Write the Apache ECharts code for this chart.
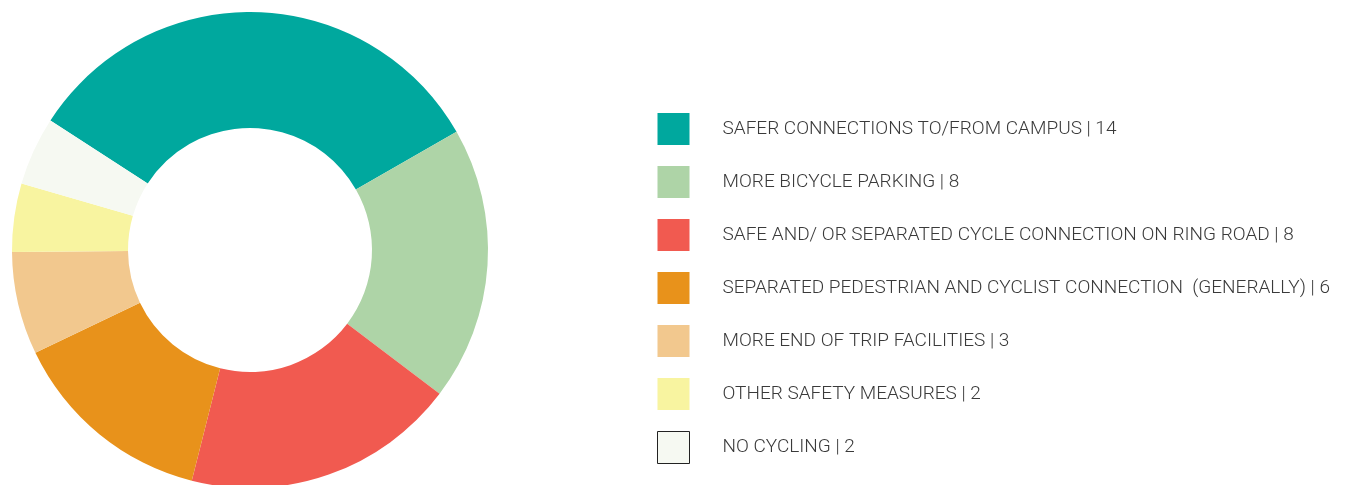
<!DOCTYPE html>
<html>
<head>
<meta charset="utf-8">
<script src="https://cdn.jsdelivr.net/npm/echarts@6/dist/echarts.min.js"></script>
<style>
	html,body{margin:0;padding:0;background:#fff;}
	#chart{width:1349px;height:485px;}
</style>
</head>
<body>
<div id="chart"></div>
<script>
	// categories and counts, in legend order
	var categories = [
		'SAFER CONNECTIONS TO/FROM CAMPUS',
		'MORE BICYCLE PARKING',
		'SAFE AND/ OR SEPARATED CYCLE CONNECTION ON RING ROAD',
		'SEPARATED PEDESTRIAN AND CYCLIST CONNECTION  (GENERALLY)',
		'MORE END OF TRIP FACILITIES',
		'OTHER SAFETY MEASURES',
		'NO CYCLING'
	]
	var counts = [14, 8, 8, 6, 3, 2, 2]
	var colors = ['#00a89e', '#aed4a7', '#f15a50', '#e8921b', '#f2c88e', '#f8f4a0', '#f6f9f2']

	var names = categories.map(function(c, i){ return c + ' | ' + counts[i] })

	var chart = echarts.init(document.getElementById('chart'))
	chart.setOption({
		animation:false,
		color:colors,
		legend:{
			orient:'vertical',
			left:657,
			top:113,
			padding:0,
			icon:'rect',
			itemWidth:32,
			itemHeight:32,
			itemGap:21,
			selectedMode:false,
			textStyle:{
				fontFamily:'Roboto',
				fontWeight:300,
				fontSize:19,
				color:'#3a3a3a',
				padding:[0,0,0,28]
			},
			data:names.map(function(n, i){
				var item = { name:n }
				// last swatch is near white, outlined in the original
				if (i === names.length - 1) {
					item.itemStyle = { borderColor:'#222', borderWidth:1 }
				}
				return item
			})
		},
		series:[
			{
				type:'pie',
				center:[250, 250],
				radius:[122, 238],
				startAngle:147,
				clockwise:true,
				label:{ show:false },
				labelLine:{ show:false },
				emphasis:{ disabled:true },
				itemStyle:{ borderWidth:0 },
				data:names.map(function(n, i){
					return { name:n, value:counts[i] }
				})
			}
		]
	})
</script>
</body>
</html>
